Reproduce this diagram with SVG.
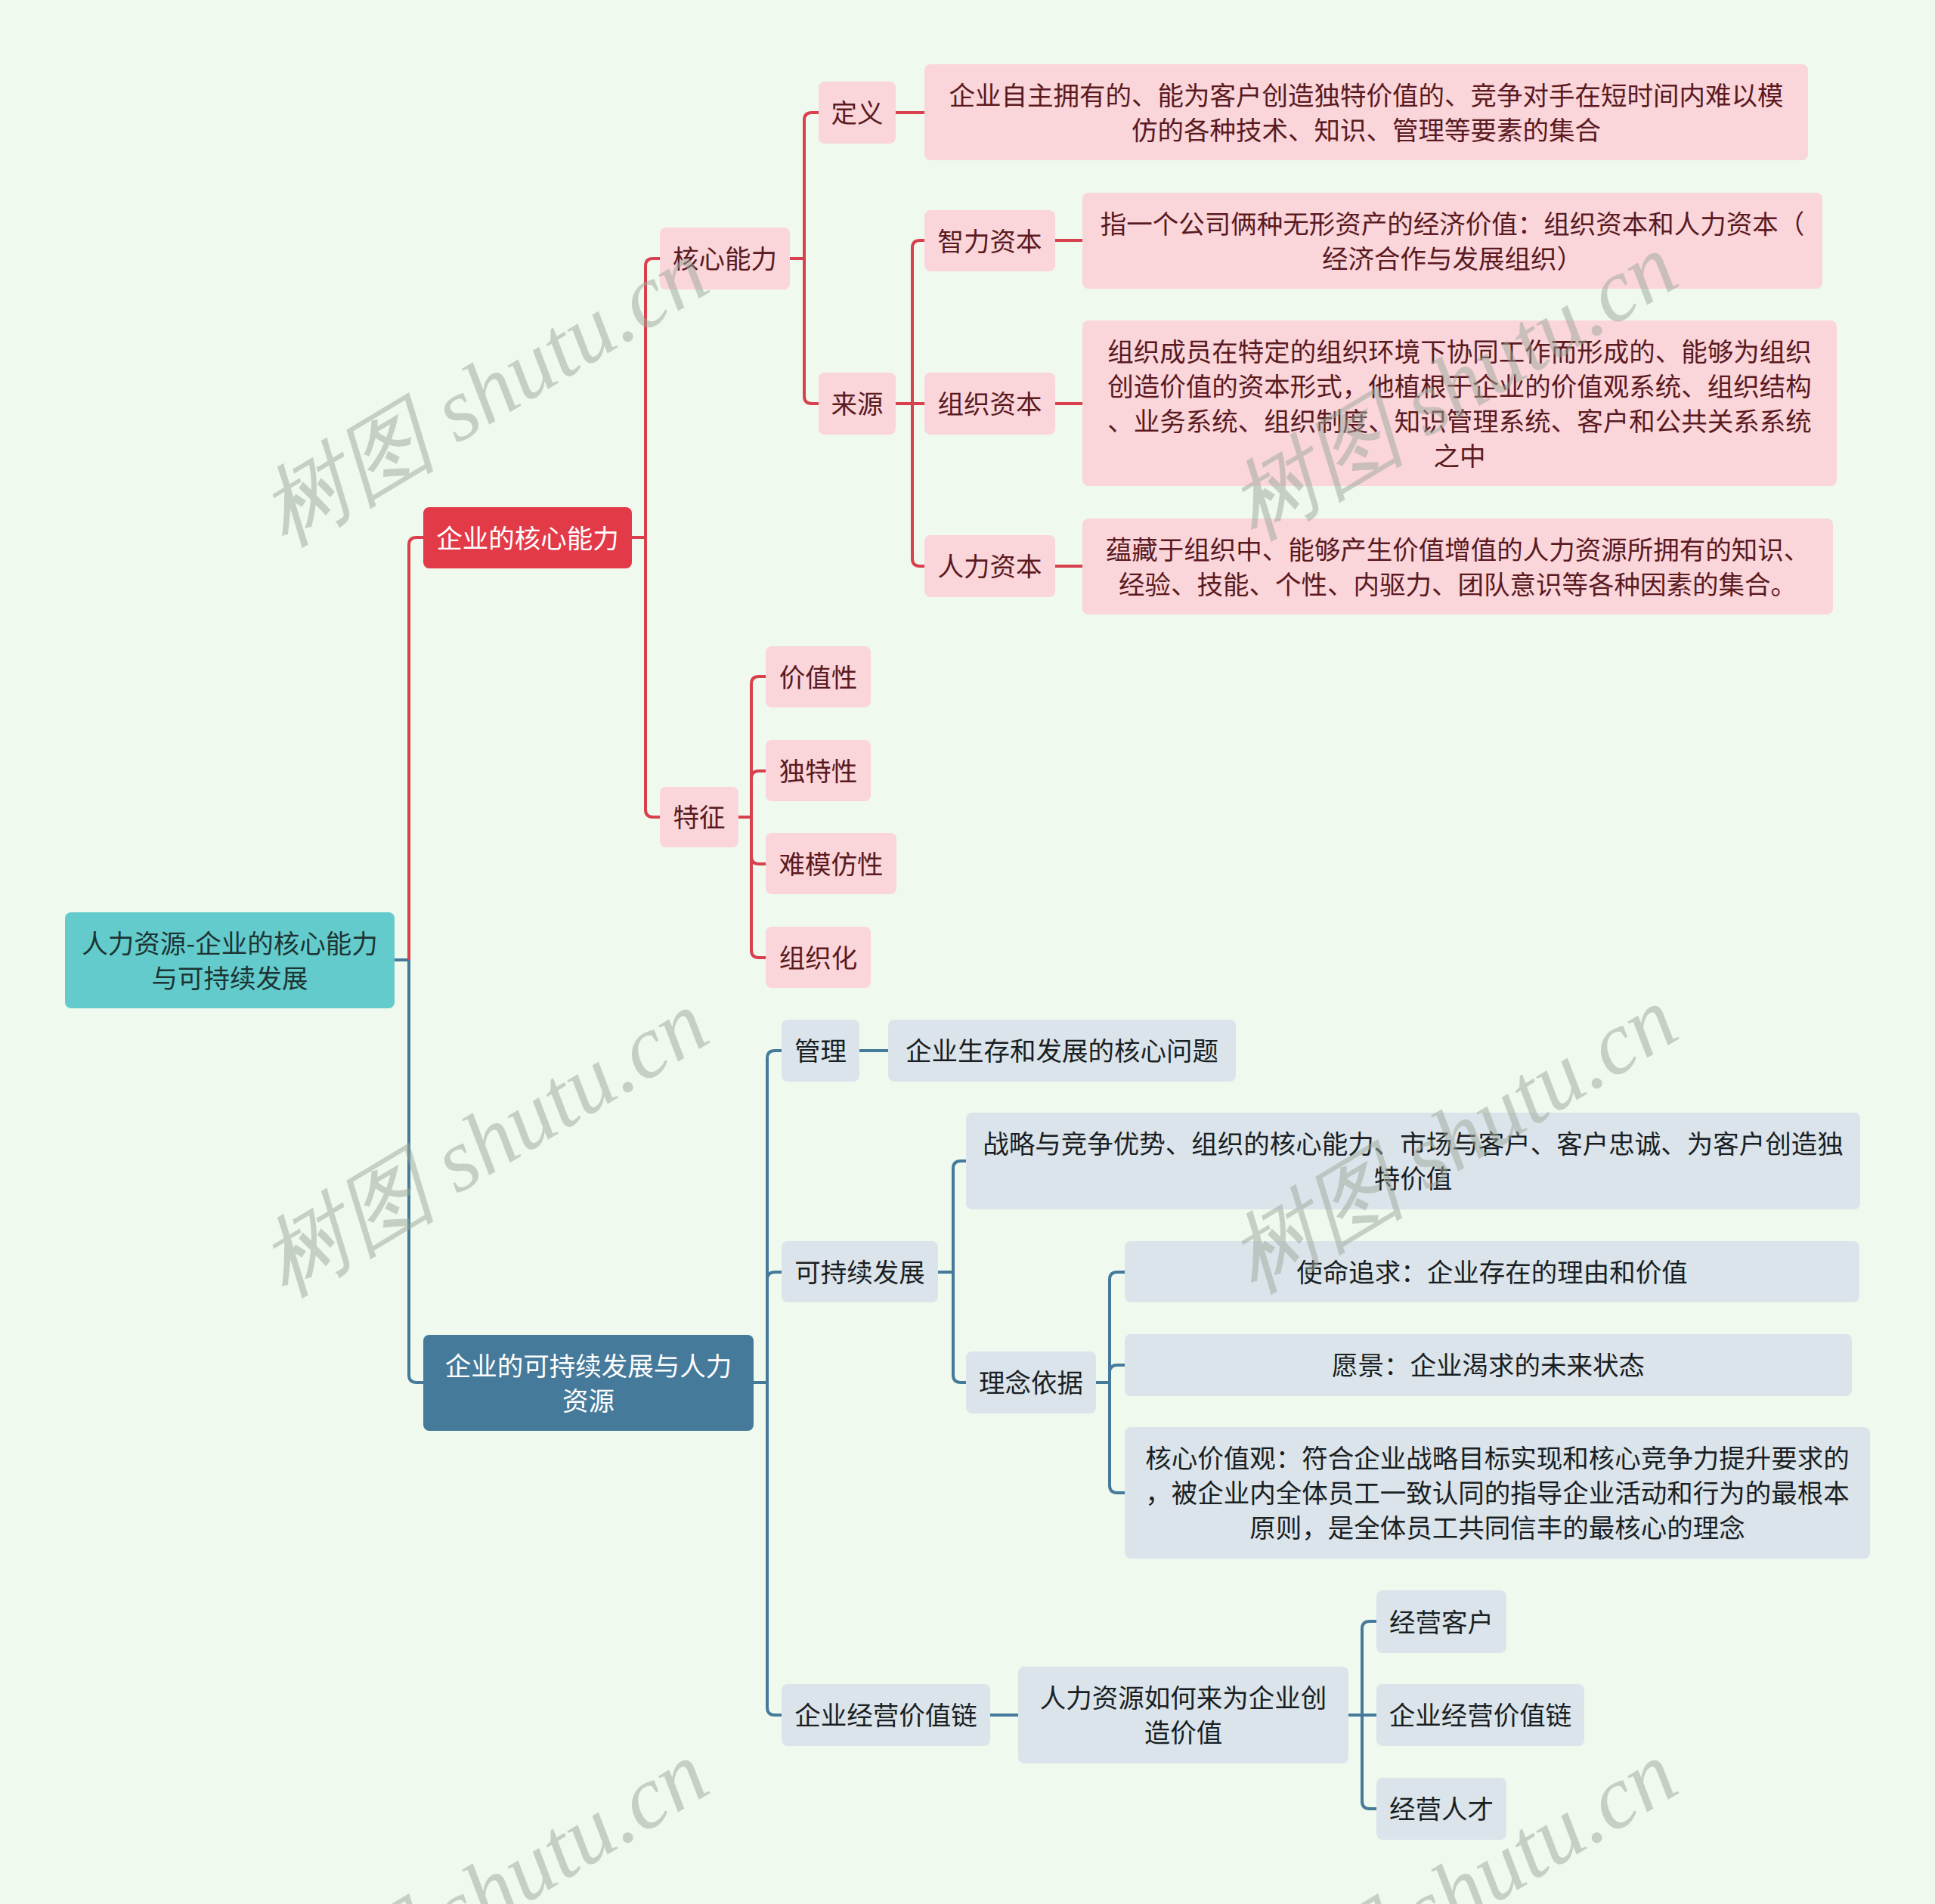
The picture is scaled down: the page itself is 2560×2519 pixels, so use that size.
<svg xmlns="http://www.w3.org/2000/svg" width="2560" height="2519" viewBox="0 0 2560 2519">
<style>
text{font-family:"Noto Sans CJK SC","Noto Sans",sans-serif;font-size:34.5px;text-anchor:middle;dominant-baseline:central}
.root text,.red text,.blue text,.pink text,.gray text{transform:translate(0px,-2px)}
.root rect{fill:#63cbcb}
.root text{fill:#1d3434}
.red rect{fill:#e33a48}
.red text{fill:#ffffff}
.blue rect{fill:#467a9b}
.blue text{fill:#ffffff}
.pink rect{fill:#fad5da}
.pink text{fill:#5a1a1f}
.gray rect{fill:#dbe4ea}
.gray text{fill:#1a1f24}
.cr{fill:none;stroke:#d8404d;stroke-width:4}
.cb{fill:none;stroke:#467a9b;stroke-width:4}
.wm text{font-family:"Liberation Serif",serif;font-style:italic;font-size:118px;fill:#9ca89c;opacity:0.5;text-anchor:middle;dominant-baseline:central}
</style>
<rect x="0" y="0" width="2560" height="2519" fill="#f0f9ee"/>
<g id="connectors">
<path class="cb" d="M522,1270 H541"/>
<path class="cr" d="M541,1270 V721 Q541,711 551,711 H560"/>
<path class="cb" d="M541,1270 V1819 Q541,1829 551,1829 H560"/>
<path class="cr" d="M836,711 H854 M854,711 V352 Q854,342 864,342 H873 M854,711 V1071 Q854,1081 864,1081 H873"/>
<path class="cr" d="M1045,342 H1064 M1064,342 V159 Q1064,149 1074,149 H1083 M1064,342 V524 Q1064,534 1074,534 H1083"/>
<path class="cr" d="M1185,149 H1223"/>
<path class="cr" d="M1185,534 H1223 M1207,534 V328 Q1207,318 1217,318 H1223 M1207,534 V739 Q1207,749 1217,749 H1223"/>
<path class="cr" d="M1396,318 H1432 M1396,534 H1432 M1396,749 H1432"/>
<path class="cr" d="M977,1081 H994 M994,1081 V905 Q994,895 1004,895 H1013 M994,1081 V1030 Q994,1020 1004,1020 H1013 M994,1081 V1133 Q994,1143 1004,1143 H1013 M994,1081 V1257 Q994,1267 1004,1267 H1013"/>
<path class="cb" d="M997,1829 H1015 M1015,1829 V1400 Q1015,1390 1025,1390 H1034 M1015,1829 V1693 Q1015,1683 1025,1683 H1034 M1015,1829 V2259 Q1015,2269 1025,2269 H1034"/>
<path class="cb" d="M1137,1390 H1175"/>
<path class="cb" d="M1241,1683 H1261 M1261,1683 V1546 Q1261,1536 1271,1536 H1278 M1261,1683 V1819 Q1261,1829 1271,1829 H1278"/>
<path class="cb" d="M1450,1829 H1468 M1468,1829 V1693 Q1468,1683 1478,1683 H1488 M1468,1829 V1816 Q1468,1806 1478,1806 H1488 M1468,1829 V1965 Q1468,1975 1478,1975 H1488"/>
<path class="cb" d="M1310,2269 H1347"/>
<path class="cb" d="M1784,2269 H1821 M1802,2269 V2155 Q1802,2145 1812,2145 H1821 M1802,2269 V2383 Q1802,2393 1812,2393 H1821"/>
</g>
<g id="n-root" class="root"><rect x="86" y="1207" width="436" height="127" rx="8"/><text x="304" y="1247.5">人力资源-企业的核心能力</text><text x="304" y="1293.5">与可持续发展</text></g>
<g id="n-core" class="red"><rect x="560" y="671" width="276" height="81" rx="8"/><text x="698" y="711.5">企业的核心能力</text></g>
<g id="n-sust" class="blue"><rect x="560" y="1766" width="437" height="127" rx="8"/><text x="778.5" y="1806.5">企业的可持续发展与人力</text><text x="778.5" y="1852.5">资源</text></g>
<g id="n-hxnl" class="pink"><rect x="873" y="301" width="172" height="82" rx="8"/><text x="959" y="342">核心能力</text></g>
<g id="n-tz" class="pink"><rect x="873" y="1041" width="104" height="80" rx="8"/><text x="925" y="1081">特征</text></g>
<g id="n-dy" class="pink"><rect x="1083" y="108" width="102" height="82" rx="8"/><text x="1134" y="149">定义</text></g>
<g id="n-ly" class="pink"><rect x="1083" y="493" width="102" height="82" rx="8"/><text x="1134" y="534">来源</text></g>
<g id="n-dy-t" class="pink"><rect x="1223" y="85" width="1169" height="127" rx="8"/><text x="1807.5" y="125.5">企业自主拥有的、能为客户创造独特价值的、竞争对手在短时间内难以模</text><text x="1807.5" y="171.5">仿的各种技术、知识、管理等要素的集合</text></g>
<g id="n-zlzb" class="pink"><rect x="1223" y="278" width="173" height="81" rx="8"/><text x="1309.5" y="318.5">智力资本</text></g>
<g id="n-zzzb" class="pink"><rect x="1223" y="493" width="173" height="82" rx="8"/><text x="1309.5" y="534">组织资本</text></g>
<g id="n-rlzb" class="pink"><rect x="1223" y="708" width="173" height="82" rx="8"/><text x="1309.5" y="749">人力资本</text></g>
<g id="n-zlzb-t" class="pink"><rect x="1432" y="255" width="979" height="127" rx="8"/><text x="1921.5" y="295.5">指一个公司俩种无形资产的经济价值：组织资本和人力资本（</text><text x="1921.5" y="341.5">经济合作与发展组织）</text></g>
<g id="n-zzzb-t" class="pink"><rect x="1432" y="424" width="998" height="219" rx="8"/><text x="1931" y="464.5">组织成员在特定的组织环境下协同工作而形成的、能够为组织</text><text x="1931" y="510.5">创造价值的资本形式，他植根于企业的价值观系统、组织结构</text><text x="1931" y="556.5">、业务系统、组织制度、知识管理系统、客户和公共关系系统</text><text x="1931" y="602.5">之中</text></g>
<g id="n-rlzb-t" class="pink"><rect x="1432" y="686" width="993" height="127" rx="8"/><text x="1928.5" y="726.5">蕴藏于组织中、能够产生价值增值的人力资源所拥有的知识、</text><text x="1928.5" y="772.5">经验、技能、个性、内驱力、团队意识等各种因素的集合。</text></g>
<g id="n-jzx" class="pink"><rect x="1013" y="855" width="139" height="81" rx="8"/><text x="1082.5" y="895.5">价值性</text></g>
<g id="n-dtx" class="pink"><rect x="1013" y="979" width="139" height="81" rx="8"/><text x="1082.5" y="1019.5">独特性</text></g>
<g id="n-nmfx" class="pink"><rect x="1013" y="1102" width="173" height="81" rx="8"/><text x="1099.5" y="1142.5">难模仿性</text></g>
<g id="n-zzh" class="pink"><rect x="1013" y="1226" width="139" height="81" rx="8"/><text x="1082.5" y="1266.5">组织化</text></g>
<g id="n-gl" class="gray"><rect x="1034" y="1349" width="103" height="82" rx="8"/><text x="1085.5" y="1390">管理</text></g>
<g id="n-gl-t" class="gray"><rect x="1175" y="1349" width="460" height="82" rx="8"/><text x="1405" y="1390">企业生存和发展的核心问题</text></g>
<g id="n-kcx" class="gray"><rect x="1034" y="1642" width="207" height="81" rx="8"/><text x="1137.5" y="1682.5">可持续发展</text></g>
<g id="n-zl" class="gray"><rect x="1278" y="1472" width="1183" height="128" rx="8"/><text x="1869.5" y="1513">战略与竞争优势、组织的核心能力、市场与客户、客户忠诚、为客户创造独</text><text x="1869.5" y="1559">特价值</text></g>
<g id="n-lnyj" class="gray"><rect x="1278" y="1788" width="172" height="82" rx="8"/><text x="1364" y="1829">理念依据</text></g>
<g id="n-smzq" class="gray"><rect x="1488" y="1642" width="972" height="81" rx="8"/><text x="1974" y="1682.5">使命追求：企业存在的理由和价值</text></g>
<g id="n-yj" class="gray"><rect x="1488" y="1765" width="962" height="82" rx="8"/><text x="1969" y="1806">愿景：企业渴求的未来状态</text></g>
<g id="n-hxjzg" class="gray"><rect x="1488" y="1888" width="986" height="174" rx="8"/><text x="1981" y="1929">核心价值观：符合企业战略目标实现和核心竞争力提升要求的</text><text x="1981" y="1975">，被企业内全体员工一致认同的指导企业活动和行为的最根本</text><text x="1981" y="2021">原则，是全体员工共同信丰的最核心的理念</text></g>
<g id="n-qyjy" class="gray"><rect x="1034" y="2228" width="276" height="82" rx="8"/><text x="1172" y="2269">企业经营价值链</text></g>
<g id="n-rlzy" class="gray"><rect x="1347" y="2205" width="437" height="128" rx="8"/><text x="1565.5" y="2246">人力资源如何来为企业创</text><text x="1565.5" y="2292">造价值</text></g>
<g id="n-jykh" class="gray"><rect x="1821" y="2104" width="172" height="83" rx="8"/><text x="1907" y="2145.5">经营客户</text></g>
<g id="n-qyjy2" class="gray"><rect x="1821" y="2228" width="275" height="82" rx="8"/><text x="1958.5" y="2269">企业经营价值链</text></g>
<g id="n-jyrc" class="gray"><rect x="1821" y="2352" width="172" height="82" rx="8"/><text x="1907" y="2393">经营人才</text></g>
<g id="watermarks" class="wm">
<text transform="translate(640,520) rotate(-31)">树图 shutu.cn</text>
<text transform="translate(640,1513) rotate(-31)">树图 shutu.cn</text>
<text transform="translate(640,2506) rotate(-31)">树图 shutu.cn</text>
<text transform="translate(1922,512) rotate(-31)">树图 shutu.cn</text>
<text transform="translate(1922,1508) rotate(-31)">树图 shutu.cn</text>
<text transform="translate(1922,2506) rotate(-31)">树图 shutu.cn</text>
</g>
</svg>
